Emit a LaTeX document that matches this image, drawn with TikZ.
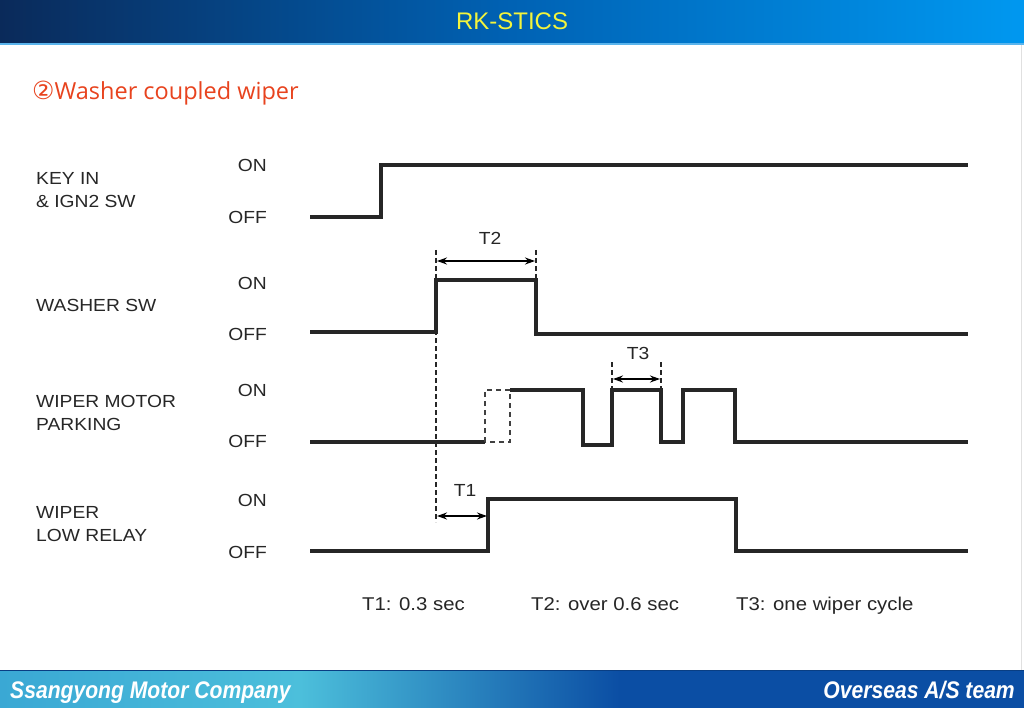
\documentclass[tikz,border=0pt]{standalone}
\usepackage{fontspec}
\setmainfont{Liberation Sans}
\newfontfamily\lblfont[FakeStretch=1.1]{Liberation Sans}
\newfontfamily\footfont[FakeStretch=0.88]{Liberation Sans}
\newfontfamily\headfont{Open Sans}
\newfontfamily\symfont{DejaVu Sans}
\usetikzlibrary{arrows,arrows.meta,positioning,calc}
\definecolor{hdrdark}{HTML}{0A2A5A}
\definecolor{hdrmid}{HTML}{0062B4}
\definecolor{hdrlight}{HTML}{0098F0}
\definecolor{hdrline}{HTML}{5AB4EC}
\definecolor{ftcyan}{HTML}{4CBFDB}
\definecolor{ftleft}{HTML}{3AA8D4}
\definecolor{ftblue}{HTML}{0B4EA4}
\definecolor{ttlred}{HTML}{E8431E}
\definecolor{ttlyel}{HTML}{F4F43C}
\tikzset{
  sig/.style={line width=3.2pt,black!85,line join=miter},
  ghost/.style={line width=1.6pt,dash pattern=on 5pt off 4pt,black!75},
  guide/.style={line width=1.6pt,dash pattern=on 5pt off 3pt,black!85},
  dimarr/.style={{Stealth[length=10pt,width=7pt]}-{Stealth[length=10pt,width=7pt]},line width=1.6pt},
  nm/.style={font=\lblfont\fontsize{17.5}{23}\selectfont,anchor=west,align=left,inner sep=0pt,text=black!85},
  lv/.style={font=\lblfont\fontsize{17.5}{20}\selectfont,anchor=east,inner sep=0pt,text=black!85},
  tl/.style={font=\lblfont\fontsize{17.5}{20}\selectfont,inner sep=0pt,text=black!85},
  lg/.style={font=\lblfont\fontsize{18.5}{22}\selectfont,inner sep=0pt,anchor=base west,text=black!85},
  ft/.style={font=\footfont\bfseries\itshape\fontsize{24}{28}\selectfont,text=white,inner sep=0pt},
}

\begin{document}
\begin{tikzpicture}[x=1pt,y=-1pt]
  \useasboundingbox (0,0) rectangle (1024,708);
  \fill[white] (0,0) rectangle (1024,708);
  \draw[black!12,line width=1pt] (1021,45) -- (1021,670);
  % header and footer bars
  \shade[left color=hdrdark,right color=hdrmid] (0,0) rectangle (512,43);
  \shade[left color=hdrmid,right color=hdrlight] (512,0) rectangle (1024,43);
  \fill[hdrline] (0,43) rectangle (1024,45);
  \node[font=\fontsize{24}{28}\selectfont,text=ttlyel] (hdr) at (512,21) {RK-STICS};
  \shade[left color=ftleft,right color=ftcyan] (0,670) rectangle (300,708);
  \shade[left color=ftcyan,right color=ftblue] (300,670) rectangle (620,708);
  \fill[ftblue] (620,670) rectangle (1024,708);
  \draw[ftblue!80!black,line width=1pt] (0,670) -- (1024,670);
  \node[ft,anchor=base west] (co) at (10,698) {Ssangyong Motor Company};
  \node[ft,anchor=base east] (team) at (1015,698) {Overseas A/S team};
  \node[font=\headfont\fontsize{23.5}{28}\selectfont,text=ttlred,anchor=west,inner sep=0pt] (ttl) at (32,93) {{\symfont\fontsize{25}{28}\selectfont ②}Washer coupled wiper};

  % signal names and levels
  \node[nm] (key) at (36,190) {KEY IN\\\& IGN2 SW};
  \node[nm] (wsh) at (36,305) {WASHER SW};
  \node[nm] (mot) at (36,413) {WIPER MOTOR\\PARKING};
  \node[nm] (rly) at (36,524) {WIPER\\LOW RELAY};
  \foreach \n/\on/\off in {k/165/217,w/283/334,m/390/441,r/500/552}{
    \node[lv] (\n on) at (267,\on) {ON};
    \node[lv] (\n off) at (267,\off) {OFF};
  }

  % waveforms
  \draw[sig] (310,217) -- (381,217) -- (381,165) -- (968,165);
  \draw[sig] (310,332) -- (436,332) -- (436,280) -- (536,280) -- (536,334) -- (968,334);
  \draw[sig] (310,442) -- (485,442);
  \draw[ghost] (485,442) -- (485,390) -- (510,390) -- (510,442) -- cycle;
  \draw[sig] (510,390) -- (583,390) -- (583,445) -- (612,445) -- (612,390) -- (661,390)
    -- (661,442) -- (683,442) -- (683,390) -- (735,390) -- (735,442) -- (968,442);
  \draw[sig] (310,551) -- (488,551) -- (488,499) -- (736,499) -- (736,551) -- (968,551);

  % timing marks
  \coordinate (t2a) at (436,250);
  \coordinate (t2b) at (536,250);
  \coordinate (t3a) at (612,362);
  \coordinate (t3b) at (661,362);
  \draw[guide] (t2a) -- (436,522);
  \draw[guide] (t2b) -- (536,280);
  \draw[guide] (t3a) -- (612,390);
  \draw[guide] (t3b) -- (661,390);
  \coordinate (t2l) at (437,261);
  \coordinate (t2r) at (535,261);
  \coordinate (t3l) at (613,379);
  \coordinate (t3r) at (660,379);
  \coordinate (t1l) at (437,516);
  \coordinate (t1r) at (487,516);
  \draw[dimarr] (t2l) -- (t2r);
  \draw[dimarr] (t3l) -- (t3r);
  \draw[dimarr] (t1l) -- (t1r);
  \node[tl] (t2) at (490,238) {T2};
  \node[tl] (t3) at (638,353) {T3};
  \node[tl] (t1) at (465,490) {T1};

  % legend
  \node[lg] (lg1) at (362,610) {T1: 0.3 sec};
  \node[lg] (lg2) at (531,610) {T2: over 0.6 sec};
  \node[lg] (lg3) at (736,610) {T3: one wiper cycle};
\end{tikzpicture}
\end{document}
